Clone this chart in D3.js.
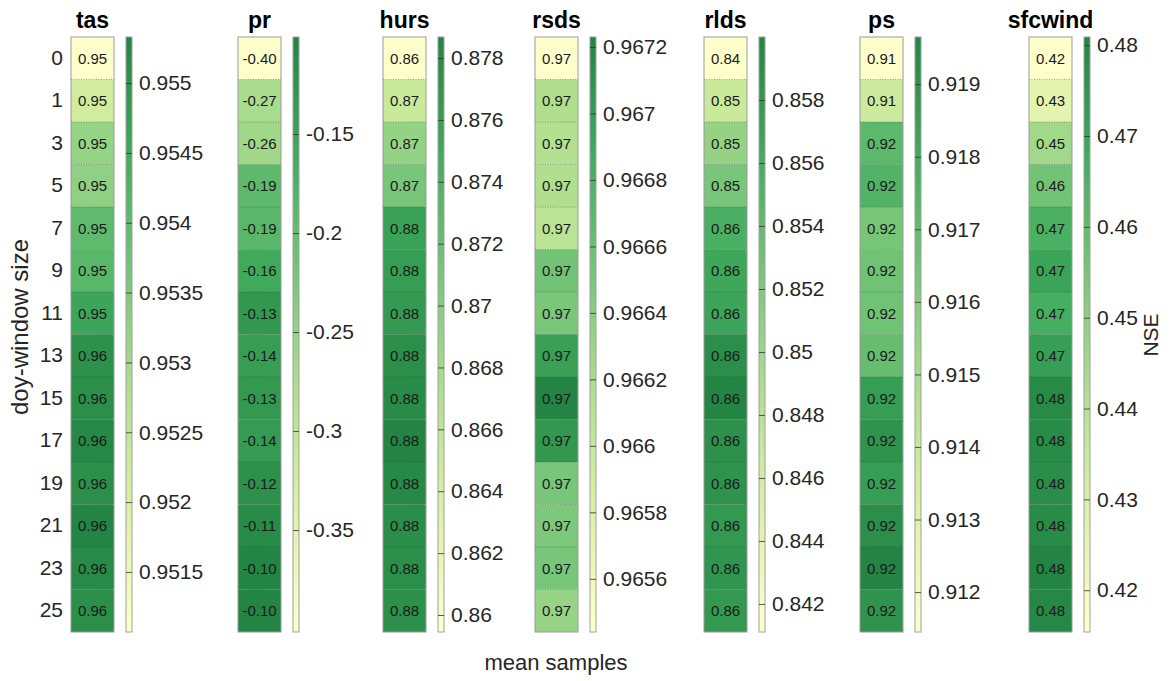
<!DOCTYPE html>
<html>
<head>
<meta charset="utf-8">
<script src="https://cdn.jsdelivr.net/npm/d3@7"></script>
<style>
  html, body { margin: 0; padding: 0; background: #fff; }
  svg { display: block; font-family: "Liberation Sans", Arial, Helvetica, sans-serif; }
</style>
</head>
<body>
<svg id="chart" width="1176" height="681"></svg>
<script>
// Window sizes (rows) shared by every variable
const windowSizes = ["0", "1", "3", "5", "7", "9", "11", "13", "15", "17", "19", "21", "23", "25"];

// Variable names (one column + colourbar each)
const variables = ["tas", "pr", "hurs", "rsds", "rlds", "ps", "sfcwind"];

// NSE per window size, one array per variable
const tasNSE     = [0.95107, 0.9522, 0.9532, 0.9533, 0.9540, 0.9541, 0.9546, 0.95505, 0.9551, 0.95525, 0.9551, 0.95533, 0.9552, 0.9551];
const prNSE      = [-0.4015, -0.272, -0.262, -0.192, -0.188, -0.158, -0.132, -0.139, -0.133, -0.137, -0.121, -0.112, -0.102, -0.101];
const hursNSE    = [0.85945, 0.8652, 0.8691, 0.8710, 0.8757, 0.8762, 0.8765, 0.8776, 0.8780, 0.87868, 0.8782, 0.8778, 0.8776, 0.8775];
const rsdsNSE    = [0.96544, 0.96616, 0.96614, 0.96616, 0.96608, 0.96655, 0.96650, 0.96697, 0.96723, 0.96705, 0.96652, 0.96648, 0.96652, 0.96632];
const rldsNSE    = [0.84111, 0.8468, 0.8506, 0.8525, 0.8556, 0.8566, 0.8568, 0.8590, 0.8600, 0.8587, 0.8585, 0.8580, 0.8584, 0.8580];
const psNSE      = [0.91145, 0.9138, 0.9172, 0.9175, 0.9164, 0.9166, 0.9166, 0.9169, 0.9186, 0.9190, 0.9186, 0.9192, 0.91965, 0.9190];
const sfcwindNSE = [0.4154, 0.4260, 0.4455, 0.4560, 0.4655, 0.4700, 0.4665, 0.4720, 0.4790, 0.4785, 0.4780, 0.4785, 0.4809, 0.4795];

// Colourbar tick values per variable
const tasTicks     = [0.9515, 0.952, 0.9525, 0.953, 0.9535, 0.954, 0.9545, 0.955];
const prTicks      = [-0.35, -0.3, -0.25, -0.2, -0.15];
const hursTicks    = [0.86, 0.862, 0.864, 0.866, 0.868, 0.87, 0.872, 0.874, 0.876, 0.878];
const rsdsTicks    = [0.9656, 0.9658, 0.966, 0.9662, 0.9664, 0.9666, 0.9668, 0.967, 0.9672];
const rldsTicks    = [0.842, 0.844, 0.846, 0.848, 0.85, 0.852, 0.854, 0.856, 0.858];
const psTicks      = [0.912, 0.913, 0.914, 0.915, 0.916, 0.917, 0.918, 0.919];
const sfcwindTicks = [0.42, 0.43, 0.44, 0.45, 0.46, 0.47, 0.48];

const seriesByVar = { tas: tasNSE, pr: prNSE, hurs: hursNSE, rsds: rsdsNSE, rlds: rldsNSE, ps: psNSE, sfcwind: sfcwindNSE };
const ticksByVar  = { tas: tasTicks, pr: prTicks, hurs: hursTicks, rsds: rsdsTicks, rlds: rldsTicks, ps: psTicks, sfcwind: sfcwindTicks };

// Layout
const panelLeft = [71, 238, 383, 535, 704, 860, 1029];
const cellW = 43, barGap = 12, barW = 6;
const plotTop = 37, plotBottom = 632;
const textColor = "#262626";
const tickFont = 21;

const locale = d3.formatLocale({ decimal: ".", thousands: ",", grouping: [3], currency: ["", ""], minus: "-" });
const cellFmt = locale.format(".2f");
const tickFmt = locale.format("~g");

// Yellow-green ramp, t in [0,1]
const ramp = d3.scaleLinear()
  .domain([0, 0.23, 0.42, 0.6, 0.8, 1])
  .range(["#ffffcc", "#d9f0a3", "#addd8e", "#78c679", "#41ab5d", "#238443"])
  .interpolate(d3.interpolateRgb);

const svg = d3.select("#chart");
const defs = svg.append("defs");
const grad = defs.append("linearGradient").attr("id", "cbar")
  .attr("x1", 0).attr("y1", 1).attr("x2", 0).attr("y2", 0);
d3.range(0, 1.0001, 0.05).forEach(t => {
  grad.append("stop").attr("offset", t).attr("stop-color", ramp(t));
});

const y = d3.scaleBand().domain(windowSizes).range([plotTop, plotBottom]).padding(0);

// Row labels on the first column
svg.append("g")
  .attr("transform", `translate(${panelLeft[0]},0)`)
  .call(d3.axisLeft(y).tickSize(0).tickPadding(8))
  .call(g => g.select(".domain").remove())
  .call(g => g.selectAll("text")
    .attr("font-size", 21)
    .attr("fill", textColor)
    .attr("font-family", "Liberation Sans, Arial, sans-serif"));

variables.forEach((name, i) => {
  const vals = seriesByVar[name];
  const ext = d3.extent(vals);
  const norm = d3.scaleLinear().domain(ext).range([0, 1]);
  const x0 = panelLeft[i];
  const g = svg.append("g");

  // Title
  g.append("text")
    .attr("x", x0 + cellW / 2).attr("y", 28)
    .attr("text-anchor", "middle")
    .attr("font-size", 23).attr("font-weight", "bold").attr("fill", "#000")
    .text(name);

  // Cells
  g.selectAll("rect.cell").data(vals).join("rect")
    .attr("class", "cell")
    .attr("x", x0).attr("y", (d, j) => y(windowSizes[j]))
    .attr("width", cellW).attr("height", y.bandwidth())
    .attr("fill", d => ramp(norm(d)));

  // Dotted separators between rows
  g.selectAll("line.sep").data(windowSizes.slice(1)).join("line")
    .attr("class", "sep")
    .attr("x1", x0).attr("x2", x0 + cellW)
    .attr("y1", d => y(d)).attr("y2", d => y(d))
    .attr("stroke", "#333").attr("stroke-opacity", 0.55)
    .attr("stroke-width", 0.8).attr("stroke-dasharray", "1,1.5");

  // Outline
  g.append("rect")
    .attr("x", x0).attr("y", plotTop).attr("width", cellW).attr("height", plotBottom - plotTop)
    .attr("fill", "none").attr("stroke", "#9a9a9a").attr("stroke-width", 1);

  // Cell value labels
  g.selectAll("text.val").data(vals).join("text")
    .attr("class", "val")
    .attr("x", x0 + cellW / 2)
    .attr("y", (d, j) => y(windowSizes[j]) + y.bandwidth() / 2)
    .attr("dy", "0.35em")
    .attr("text-anchor", "middle")
    .attr("font-size", 15).attr("fill", "#1a1a1a")
    .text(d => cellFmt(d));

  // Colourbar
  const bx = x0 + cellW + barGap;
  const cy = d3.scaleLinear().domain(ext).range([plotBottom, plotTop]);
  g.append("rect")
    .attr("x", bx).attr("y", plotTop).attr("width", barW).attr("height", plotBottom - plotTop)
    .attr("fill", "url(#cbar)").attr("stroke", "#a0a0a0").attr("stroke-width", 1);

  const axis = d3.axisRight(cy).tickValues(ticksByVar[name]).tickFormat(tickFmt).tickSize(barW).tickPadding(7);
  g.append("g")
    .attr("transform", `translate(${bx},0)`)
    .call(axis)
    .call(a => a.select(".domain").remove())
    .call(a => a.selectAll("line").attr("stroke", "#333").attr("stroke-opacity", 0.8))
    .call(a => a.selectAll("text")
      .attr("font-size", tickFont).attr("fill", textColor)
      .attr("font-family", "Liberation Sans, Arial, sans-serif"));
});

// Axis titles
svg.append("text")
  .attr("transform", `translate(28,327) rotate(-90)`)
  .attr("text-anchor", "middle").attr("font-size", 24).attr("fill", textColor)
  .text("doy-window size");

svg.append("text")
  .attr("x", 556).attr("y", 670)
  .attr("text-anchor", "middle").attr("font-size", 22).attr("fill", textColor)
  .text("mean samples");

svg.append("text")
  .attr("transform", `translate(1158,335) rotate(-90)`)
  .attr("text-anchor", "middle").attr("font-size", 21).attr("fill", textColor)
  .text("NSE");
</script>
</body>
</html>
